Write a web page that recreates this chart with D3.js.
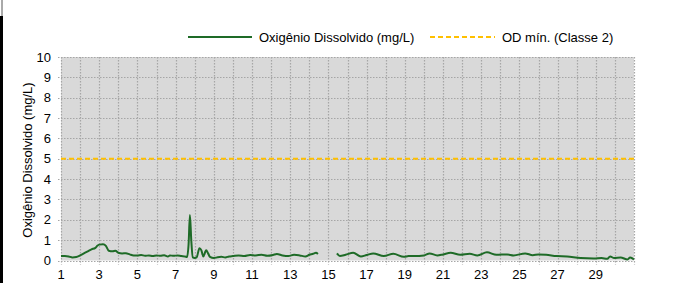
<!DOCTYPE html>
<html>
<head>
<meta charset="utf-8">
<script src="https://cdn.jsdelivr.net/npm/d3@7"></script>
<style>
  html, body { margin: 0; padding: 0; background: #fff; }
  svg { display: block; font-family: "Liberation Sans", Arial, sans-serif; }
</style>
</head>
<body>
<svg id="chart" width="680" height="283"></svg>
<script>
// dados (dia do mês, OD em mg/L); null = falha de leitura
const days = [
  1.0, 1.2, 1.4, 1.6, 1.8, 2.0, 2.2, 2.4, 2.6, 2.8, 2.9, 3.0, 3.2, 3.35, 3.5, 3.7, 3.85,
  4.0, 4.2, 4.4, 4.6, 4.8, 5.0, 5.2, 5.4, 5.6, 5.8, 6.0, 6.2, 6.4, 6.6, 6.7, 6.9,
  7.1, 7.3, 7.5, 7.6, 7.68, 7.75, 7.82, 7.9, 8.0, 8.1, 8.25, 8.35, 8.45, 8.6, 8.7, 8.8,
  9.0, 9.2, 9.4, 9.6, 9.8, 10.0, 10.3, 10.6, 10.9, 11.2, 11.5, 11.8, 12.1, 12.3, 12.6,
  12.9, 13.2, 13.5, 13.8, 14.0, 14.2, 14.35, 14.45, 14.9,
  15.45, 15.6, 15.9, 16.3, 16.7, 17.0, 17.35, 17.9, 18.4, 18.95, 19.2, 19.5, 20.0, 20.3,
  20.7, 21.0, 21.4, 21.9, 22.4, 22.8, 23.3, 23.8, 24.35, 24.7, 25.3, 25.7, 26.0, 26.4,
  26.95, 27.5, 28.2, 28.9, 29.3, 29.6, 29.75, 29.96, 30.3, 30.66, 30.8, 31.0
]
const od = [
  0.22, 0.22, 0.2, 0.15, 0.17, 0.25, 0.35, 0.45, 0.55, 0.62, 0.72, 0.78, 0.8, 0.72, 0.48, 0.45, 0.48,
  0.38, 0.35, 0.36, 0.3, 0.25, 0.24, 0.27, 0.23, 0.25, 0.22, 0.25, 0.23, 0.26, 0.2, 0.25, 0.23,
  0.25, 0.22, 0.2, 0.17, 0.8, 2.23, 1.0, 0.15, 0.12, 0.15, 0.6, 0.5, 0.2, 0.5, 0.35, 0.18,
  0.12, 0.16, 0.18, 0.15, 0.2, 0.22, 0.25, 0.22, 0.27, 0.25, 0.28, 0.23, 0.27, 0.32, 0.25,
  0.22, 0.28, 0.25, 0.2, 0.28, 0.33, 0.38, 0.32, null,
  0.35, 0.22, 0.28, 0.38, 0.2, 0.27, 0.35, 0.22, 0.33, 0.18, 0.22, 0.22, 0.25, 0.35,
  0.25, 0.3, 0.38, 0.28, 0.33, 0.25, 0.4, 0.28, 0.3, 0.25, 0.35, 0.26, 0.3, 0.28,
  0.22, 0.2, 0.12, 0.1, 0.12, 0.08, 0.2, 0.12, 0.15, 0.05, 0.15, 0.05
]
const odMin = 5 // OD mínimo Classe 2
const yTicks = [0, 1, 2, 3, 4, 5, 6, 7, 8, 9, 10]
const xLabels = [1, 3, 5, 7, 9, 11, 13, 15, 17, 19, 21, 23, 25, 27, 29]
const xGrid = d3.range(1, 32)
const seriesNames = ['Oxigênio Dissolvido (mg/L)', 'OD mín. (Classe 2)']

const svg = d3.select('#chart')
const m = { left: 61, right: 634, top: 57, bottom: 260.5 }

const x = d3.scaleLinear().domain([1, 31]).range([m.left, m.right])
const y = d3.scaleLinear().domain([0, 10]).range([m.bottom, m.top])

// barra preta da borda esquerda
svg.append('rect').attr('x', 0).attr('y', 16).attr('width', 3).attr('height', 267).attr('fill', '#000')
svg.append('line').attr('x1', 2).attr('x2', 2).attr('y1', 0).attr('y2', 16).attr('stroke', '#555').attr('stroke-width', 1)

// fundo da área de plotagem
svg.append('rect')
  .attr('x', m.left).attr('y', m.top)
  .attr('width', m.right - m.left).attr('height', m.bottom - m.top)
  .attr('fill', '#d9d9d9')

const grid = svg.append('g')
  .attr('stroke', '#a6a6a6').attr('stroke-width', 1.2).attr('stroke-dasharray', '1.5,1.5')

grid.selectAll('line.h').data(yTicks).join('line')
  .attr('class', 'h')
  .attr('x1', m.left - 3).attr('x2', m.right)
  .attr('y1', d => Math.round(y(d)) + 0.5).attr('y2', d => Math.round(y(d)) + 0.5)

grid.selectAll('line.v').data(xGrid).join('line')
  .attr('class', 'v')
  .attr('x1', d => Math.round(x(d)) + 0.5).attr('x2', d => Math.round(x(d)) + 0.5)
  .attr('y1', m.top).attr('y2', m.bottom + 4)

// rótulos dos eixos
svg.append('g').selectAll('text').data(yTicks).join('text')
  .attr('x', 51).attr('y', d => y(d) + 4.5)
  .attr('text-anchor', 'end').attr('font-size', 13).attr('fill', '#000')
  .text(d => d)

svg.append('g').selectAll('text').data(xLabels).join('text')
  .attr('x', d => x(d)).attr('y', 278.5)
  .attr('text-anchor', 'middle').attr('font-size', 13).attr('fill', '#000')
  .text(d => d)

svg.append('text')
  .attr('transform', 'translate(32,160) rotate(-90)')
  .attr('text-anchor', 'middle').attr('font-size', 13).attr('fill', '#000')
  .text('Oxigênio Dissolvido (mg/L)')

// linha do limite mínimo
svg.append('line')
  .attr('x1', m.left).attr('x2', m.right)
  .attr('y1', y(odMin)).attr('y2', y(odMin))
  .attr('stroke', '#ffc000').attr('stroke-width', 2).attr('stroke-dasharray', '5,3')

// série de OD
const pts = days.map((d, i) => ({ d, v: od[i] }))
const line = d3.line()
  .defined(p => p.v !== null)
  .x(p => x(p.d)).y(p => y(p.v))
  .curve(d3.curveMonotoneX)
svg.append('path').datum(pts)
  .attr('fill', 'none').attr('stroke', '#1e6b27').attr('stroke-width', 2)
  .attr('stroke-linejoin', 'round')
  .attr('d', line)

// legenda
const leg = svg.append('g')
leg.append('line').attr('x1', 188).attr('x2', 252).attr('y1', 37).attr('y2', 37)
  .attr('stroke', '#1e6b27').attr('stroke-width', 2)
leg.append('text').attr('x', 259).attr('y', 41.5).attr('font-size', 13).text(seriesNames[0])
leg.append('line').attr('x1', 430).attr('x2', 495).attr('y1', 37).attr('y2', 37)
  .attr('stroke', '#ffc000').attr('stroke-width', 2).attr('stroke-dasharray', '5,3')
leg.append('text').attr('x', 502).attr('y', 41.5).attr('font-size', 13).text(seriesNames[1])
</script>
</body>
</html>
